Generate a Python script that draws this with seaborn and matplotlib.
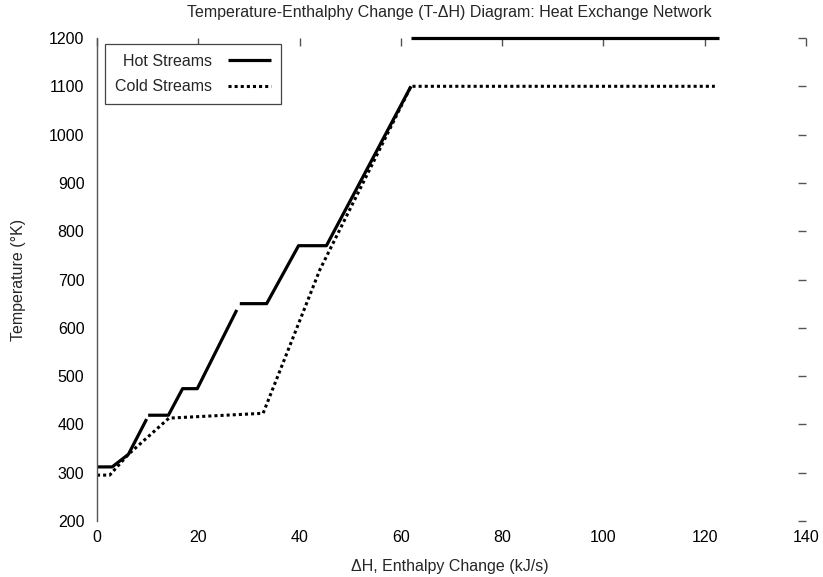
import numpy as np
import pandas as pd
import seaborn as sns
import matplotlib
matplotlib.use("Agg")
import matplotlib.pyplot as plt
from matplotlib.lines import Line2D

# Composite hot streams: separate pieces are split by NaN entries
hot_dh = [0, 3.0, 6.2, 9.8, np.nan,
          10.1, 14.1, 16.9, 19.8, 27.6, np.nan,
          28.2, 33.5, 39.8, 45.3, 62.0, np.nan,
          62.0, 122.8]
hot_t = [312, 312, 338, 411, np.nan,
         419, 419, 474, 474, 637, np.nan,
         650, 650, 770, 770, 1100, np.nan,
         1200, 1200]

# Composite cold stream
cold_dh = [0, 2.5, 6.2, 14.2, 32.8, 44.0, 62.0, 122.0]
cold_t = [295, 295, 338, 413, 423, 720, 1100, 1100]

x_ticks = [0, 20, 40, 60, 80, 100, 120, 140]
y_ticks = [200, 300, 400, 500, 600, 700, 800, 900, 1000, 1100, 1200]

title = "Temperature-Enthalphy Change (T-\u0394H) Diagram: Heat Exchange Network"
x_label = "\u0394H, Enthalpy Change (kJ/s)"
y_label = "Temperature (\u00b0K)"
legend_labels = ["Hot Streams", "Cold Streams"]

sns.set_style("white")
plt.rcParams["font.family"] = ["Liberation Sans", "DejaVu Sans"]
FS = 11.5
plt.rcParams["font.size"] = FS


def split_segments(xs, ys):
    segs, cx, cy = [], [], []
    for x, y in zip(xs, ys):
        if np.isnan(x):
            if cx:
                segs.append((cx, cy))
            cx, cy = [], []
        else:
            cx.append(x)
            cy.append(y)
    if cx:
        segs.append((cx, cy))
    return segs


rows = []
for i, (sx, sy) in enumerate(split_segments(hot_dh, hot_t)):
    for order, (x, y) in enumerate(zip(sx, sy)):
        rows.append(dict(stream="Hot Streams", seg=f"h{i}", order=order, dh=x, T=y))
for order, (x, y) in enumerate(zip(cold_dh, cold_t)):
    rows.append(dict(stream="Cold Streams", seg="c0", order=order, dh=x, T=y))
df = pd.DataFrame(rows)

fig = plt.figure(figsize=(8.23, 5.77), dpi=100)
ax = fig.add_axes([97 / 823, 1 - 521 / 577, 709 / 823, 483 / 577])

hot_kw = dict(color="black", linewidth=2.3, solid_capstyle="butt")
cold_kw = dict(color="black", linewidth=2.2, linestyle=(0, (1, 1)),
               dash_capstyle="butt")

for seg, part in df.groupby("seg", sort=False):
    kw = hot_kw if seg.startswith("h") else cold_kw
    sns.lineplot(data=part, x="dh", y="T", estimator=None, sort=False,
                 ax=ax, legend=False, clip_on=False, **kw)

ax.set_xlim(0, 140)
ax.set_ylim(200, 1200)
ax.set_xticks(x_ticks)
ax.set_yticks(y_ticks)
ax.set_xticklabels([str(v) for v in x_ticks])
ax.set_yticklabels([str(v) for v in y_ticks])

tick_grey = "#555555"
ax.tick_params(axis="both", which="major", direction="in", length=5.5,
               width=1.0, color=tick_grey, top=True, right=True,
               labelsize=FS, labelcolor="black")
ax.tick_params(axis="x", pad=6.5)
ax.tick_params(axis="y", pad=9)

for side in ["top", "right", "bottom"]:
    ax.spines[side].set_visible(False)
ax.spines["left"].set_color(tick_grey)
ax.spines["left"].set_linewidth(1.0)

ax.set_xlabel(x_label, fontsize=FS)
ax.set_ylabel(y_label, fontsize=FS)
ax.xaxis.set_label_coords((450 - 97) / 709, (521 - 566) / 483)
ax.yaxis.set_label_coords((19 - 97) / 709, 0.5)
for lab in (ax.xaxis.label, ax.yaxis.label):
    lab.set_verticalalignment("center")
fig.text(449 / 823, 1 - 13 / 577, title, ha="center", va="center", fontsize=FS)

handles = [Line2D([], [], **hot_kw), Line2D([], [], **cold_kw)]
leg = ax.legend(handles, legend_labels, loc="upper left",
                bbox_to_anchor=((105 - 97) / 709, 1 - (44 - 38) / 483),
                borderaxespad=0, markerfirst=False, fancybox=False,
                framealpha=1, edgecolor="#444444", handlelength=2.75,
                handletextpad=1.0, labelspacing=0.68, borderpad=0.6,
                fontsize=FS)
leg.get_frame().set_linewidth(0.9)

fig.savefig("out.png", dpi=100)
